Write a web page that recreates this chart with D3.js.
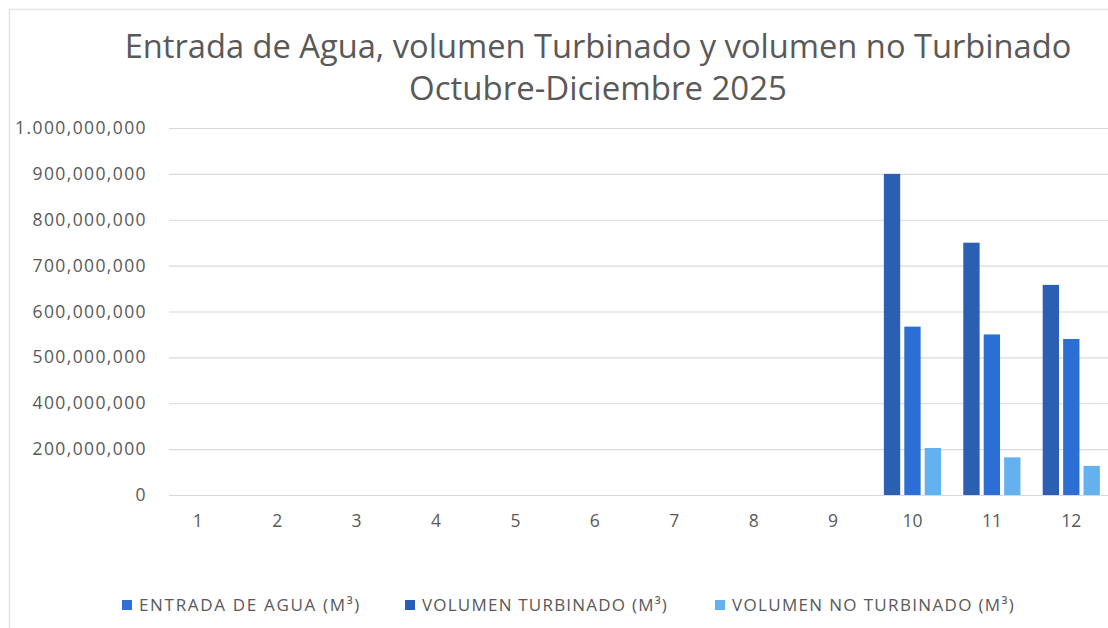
<!DOCTYPE html>
<html>
<head>
<meta charset="utf-8">
<script src="https://cdn.jsdelivr.net/npm/d3@7"></script>
<style>
  html, body { margin: 0; padding: 0; background: #ffffff; }
  svg { display: block; }
  text { font-family: "Open Sans", "Noto Sans", sans-serif; fill: #595959; }
</style>
</head>
<body>
<svg id="chart" width="1108" height="628"></svg>
<script>
// ---- data ----
const titleLines = ["Entrada de Agua, volumen Turbinado y volumen no Turbinado", "Octubre-Diciembre 2025"];
const categories = ["1","2","3","4","5","6","7","8","9","10","11","12"];
const seriesNames = ["ENTRADA DE AGUA (M³)", "VOLUMEN TURBINADO (M³)", "VOLUMEN NO TURBINADO (M³)"];
const entradaAgua      = [0,0,0,0,0,0,0,0,0, 900000000, 750000000, 658000000];
const volumenTurbinado = [0,0,0,0,0,0,0,0,0, 567000000, 550000000, 540000000];
const volumenNoTurb    = [0,0,0,0,0,0,0,0,0, 205000000, 164000000, 127000000];
const yTickValues = [0, 200000000, 400000000, 500000000, 600000000, 700000000, 800000000, 900000000, 1000000000];
const yTickLabels = ["0", "200,000,000", "400,000,000", "500,000,000", "600,000,000", "700,000,000", "800,000,000", "900,000,000", "1.000,000,000"];
const barColors = ["#2b5fb2", "#2c6fd4", "#63b1ee"];
const legendColors = ["#2f6fd8", "#2a5cb8", "#63b1ee"];

const seriesValues = [entradaAgua, volumenTurbinado, volumenNoTurb];

// ---- layout ----
const svg = d3.select("#chart");
const W = 1108, H = 628;
const plotLeft = 169, plotRight = 1108;
const yBottom = 495, yTop = 128;

// card
svg.append("rect").attr("x", 9.5).attr("y", 9.5).attr("width", W + 10).attr("height", H + 10)
  .attr("fill", "#ffffff").attr("stroke", "#e4e4e4").attr("stroke-width", 1.5);

// title
const titleTargets = [{y: 58, w: 947}, {y: 100, w: 378}];
titleLines.forEach((t, i) => {
  const el = svg.append("text").attr("x", 598).attr("y", titleTargets[i].y)
    .attr("text-anchor", "middle").attr("font-size", 28).text(t);
  const len = el.node().getComputedTextLength();
  el.attr("font-size", 28 * titleTargets[i].w / len);
});

// scales
const y = d3.scaleLinear()
  .domain(yTickValues)
  .range(yTickValues.map((d, i) => yBottom - i * (yBottom - yTop) / (yTickValues.length - 1)));

const x0 = d3.scaleBand().domain(categories).range([158, 1111]).paddingInner(0.28).paddingOuter(0.14);
const x1 = d3.scaleBand().domain(seriesNames).range([0, x0.bandwidth()]).paddingInner(0.2).paddingOuter(0);

// gridlines + y labels
const yAxis = d3.axisLeft(y).tickValues(yTickValues)
  .tickSize(-(plotRight - plotLeft)).tickPadding(22)
  .tickFormat((d, i) => yTickLabels[i]);
const gy = svg.append("g").attr("transform", `translate(${plotLeft},0)`).call(yAxis);
gy.select(".domain").remove();
gy.selectAll(".tick line").attr("stroke", "#d9d9d9").attr("stroke-width", 1.2);
gy.selectAll(".tick text").attr("font-size", 17.5).attr("fill", "#595959")
  .style("font-family", '"Open Sans", "Noto Sans", sans-serif')
  .style("letter-spacing", "1.4px");

// x axis labels
const xAxis = d3.axisBottom(x0).tickSize(0).tickPadding(20);
const gx = svg.append("g").attr("transform", `translate(0,${yBottom})`).call(xAxis);
gx.select(".domain").remove();
gx.selectAll(".tick text").attr("font-size", 17.5).attr("fill", "#595959")
  .style("font-family", '"Open Sans", "Noto Sans", sans-serif');

// bars
const rows = categories.map((c, ci) => ({cat: c, vals: seriesNames.map((s, si) => ({s, si, v: seriesValues[si][ci]}))}));
const groups = svg.append("g").selectAll("g").data(rows).join("g")
  .attr("transform", d => `translate(${x0(d.cat)},0)`);
groups.selectAll("rect").data(d => d.vals.filter(v => v.v > 0)).join("rect")
  .attr("x", d => x1(d.s))
  .attr("width", x1.bandwidth())
  .attr("y", d => y(d.v))
  .attr("height", d => y(0) - y(d.v))
  .attr("fill", d => barColors[d.si]);

// legend
const legendX = [122, 405, 715];
const legendW = [222, 246, 283];
const lg = svg.append("g").selectAll("g").data(seriesNames).join("g")
  .attr("transform", (d, i) => `translate(${legendX[i]},605)`);
lg.append("rect").attr("x", 0).attr("y", -5).attr("width", 10).attr("height", 10)
  .attr("fill", (d, i) => legendColors[i]);
lg.append("text").attr("x", 17).attr("y", 0).attr("dy", "0.35em")
  .attr("font-size", 17).text(d => d)
  .each(function(d, i) {
    const len = this.getComputedTextLength();
    const n = d.length;
    const ls = Math.max(0, (legendW[i] - len) / n);
    d3.select(this).style("letter-spacing", ls + "px");
  });
</script>
</body>
</html>
